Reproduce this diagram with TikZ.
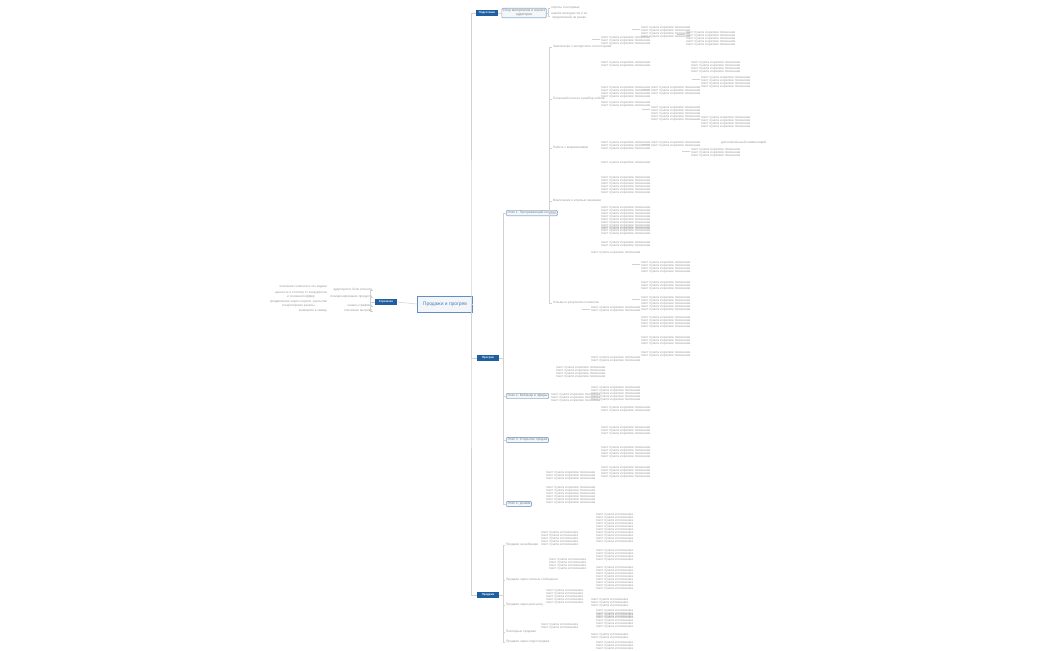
\documentclass[tikz,border=0pt]{standalone}
\usepackage{fontspec}
\setmainfont{Liberation Sans}
\usetikzlibrary{positioning}
\definecolor{mapblue}{HTML}{1F5FA0}

\begin{document}
\begin{tikzpicture}[x=0.02cm, y=-0.02cm,
    root/.style={draw=mapblue!70, fill=mapblue!6, line width=0.5pt, text=mapblue!80, font=\fontsize{2.8}{3.4}\selectfont, minimum width=0.96cm, minimum height=0.22cm},
    main/.style={fill=mapblue, text=white, font=\fontsize{1.6}{2}\selectfont\bfseries, minimum width=0.44cm, minimum height=0.1cm, inner sep=0.8pt},
    sub/.style={draw=mapblue!50, fill=mapblue!5, rounded corners=0.5pt, text=gray, font=\fontsize{1.9}{2.4}\selectfont, inner sep=0.6pt, align=center},
    leaf/.style={text=gray!80, font=\fontsize{1.8}{2.2}\selectfont, align=center, inner sep=0.4pt},
    link/.style={draw=gray!35, line width=0.3pt}
]
    \useasboundingbox (0,0) rectangle (1050,650);

    \node[root] (root) at (445,304) {Продажи и прогрев};

    % left side
    \node[main] (left) at (386,302) {Стратегия};
    \foreach \y/\t [count=\i] in {290/аудитория и боли клиента,297/позиционирование продукта,306/каналы трафика,311/ключевые метрики}
        \node[leaf, anchor=east] (l\i) at (373,\y) {\t};
    \foreach \i in {1,...,4}
        \draw[link] (left.west) -- ++(-4,0) |- (l\i.east);
    \foreach \y/\t [count=\i] in {287/{описание сегмента и его задачи},295/{ценность и отличие от конкурентов\\и основной оффер},304/{продвижение через соцсети, рассылки\\и партнёрские каналы},311/{конверсия в заявку}}
        \node[leaf, anchor=east] (ll\i) at (328,\y) {\t};
    \draw[link] (root.west) -- (left.east);

    % trunk
    \coordinate (trunk) at (471,304);
    \draw[link] (root.east) -- (trunk);
    \node[main] (m1) at (487,13) {Подготовка};
    \node[main] (m2) at (488,358) {Прогрев};
    \node[main] (m3) at (488,595) {Продажи};
    \draw[link] (m1.west) -| (trunk) |- (m3.west);
    \draw[link] (trunk) |- (m2.west);

    % first branch
    \node[sub] (s1) at (524,13) {Сбор материалов и анализ\\аудитории};
    \draw[link] (m1.east) -- (s1.west);
    \node[leaf, anchor=west] (s1a) at (550,8) {опросы и интервью};
    \node[leaf, anchor=west] (s1b) at (550,16) {анализ конкурентов и их\\предложений на рынке};
    \draw[link] (s1.east) -- ++(2,0) |- (s1a.west);
    \draw[link] (s1.east) -- ++(2,0) |- (s1b.west);

    % second branch
    \coordinate (t2) at (503,358);
    \draw[link] (m2.east) -- (t2);
    \foreach \y/\t [count=\i] in {213/Этап 1. Прогревающий контент,396/Этап 2. Вебинар и эфиры,440/Этап 3. Открытие продаж,504/Этап 4. Дожим}{
        \node[sub, anchor=west] (b\i) at (506,\y) {\t};
        \draw[link] (t2) |- (b\i.west);
    }
    \coordinate (t21) at (549,213);
    \draw[link] (b1.east) -- (t21);
    \foreach \y/\t [count=\i] in {47/Знакомство с экспертом и его историей,99/Полезный контент и разбор кейсов,148/Работа с возражениями,201/Вовлечение и игровые механики,303/Отзывы и результаты клиентов}{
        \node[leaf, anchor=west] (c\i) at (552,\y) {\t};
        \draw[link] (t21) |- (c\i.west);
    }
    % dense leaves of second branch
    \foreach \x/\y/\n in {600/35/3,640/25/4,685/30/5,600/60/2,690/60/4,600/85/4,650/85/3,700/75/4,600/100/2,650/105/5,700/115/4,600/140/3,650/140/2,690/147/3,600/160/1,600/175/6,600/205/8,600/225/3,600/240/2,590/250/1,640/260/4,640/280/3,640/295/5,640/315/4,640/335/3,640/350/2,590/305/2,590/355/2,555/365/4,590/385/5,550/392/3,600/405/2,600/425/3,600/445/4,600/465/4,545/470/3,545/485/6}
        \foreach \k in {1,...,\n}
            \node[leaf, anchor=west] at (\x,\y+\k*3) {текст пункта и краткое пояснение};
    \foreach \x/\y in {600/35,640/25,685/30,650/85,700/75,650/105,700/115,650/140,690/147,640/260,640/295,590/305}
        \draw[link] (\x-8,\y+4) -- (\x,\y+4);
    \node[leaf, anchor=west] at (720,143) {дополнительный комментарий};

    % third branch
    \coordinate (t3) at (503,595);
    \draw[link] (m3.east) -- (t3);
    \foreach \y/\t [count=\i] in {545/Продажи на вебинаре,580/Продажи через личные сообщения,605/Продажи через рассылку,632/Повторные продажи,642/Продажи через отдел продаж}{
        \node[leaf, anchor=west] (d\i) at (505,\y) {\t};
        \draw[link] (t3) |- (d\i.west);
    }
    \foreach \x/\y/\n in {540/530/5,595/512/10,595/548/4,595/565/8,548/557/4,545/588/5,590/597/3,595/608/3,540/622/2,595/612/5,590/632/2,595/640/3}
        \foreach \k in {1,...,\n}
            \node[leaf, anchor=west] at (\x,\y+\k*3) {текст пункта и пояснение};
\end{tikzpicture}
\end{document}
